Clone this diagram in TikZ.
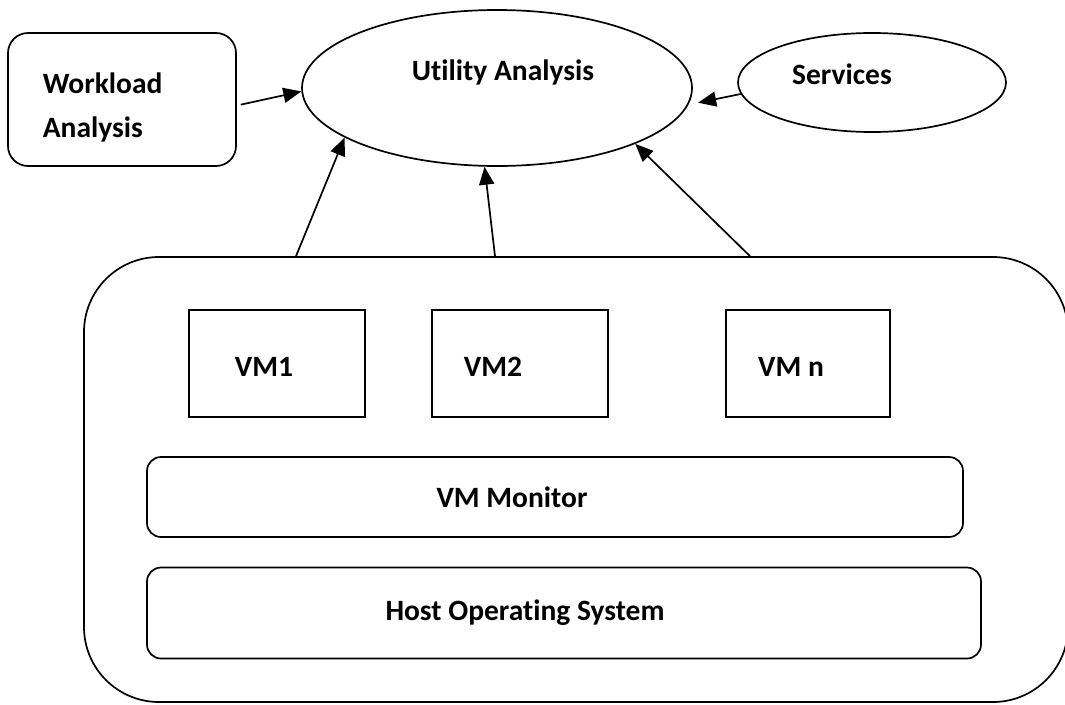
\documentclass[tikz,border=0pt]{standalone}
\usepackage{fontspec}
\setmainfont{Carlito}[Ligatures=NoCommon]
\usetikzlibrary{arrows.meta,shapes.geometric}

\begin{document}
\begin{tikzpicture}[x=1pt,y=-1pt,
	line width=1.7pt,
	>={Triangle[length=18pt,width=15pt]},
	txt/.style={font=\fontsize{29.5}{34}\selectfont\bfseries, inner sep=0pt, anchor=base},
	rbox/.style={draw, rounded corners=#1, inner sep=0pt},
	vmbox/.style={draw, inner sep=0pt, minimum height=107pt},
	oval/.style={draw, ellipse, inner sep=0pt}
]

% bounding box %{{{2

	\useasboundingbox (0,0) rectangle (1065,704);

% shapes %{{{2

	\node[rbox=20pt, minimum width=228pt, minimum height=133pt] (wl) at (122,99.5) {};
	\node[oval, minimum width=390pt, minimum height=156pt] (util) at (497,88) {};
	\node[oval, minimum width=268pt, minimum height=99pt] (svc) at (872,82.5) {};

	\node[rbox=75pt, minimum width=984pt, minimum height=445pt] (frame) at (576,479.5) {};

	\node[vmbox, minimum width=176pt] (vm1) at (277,363.5) {};
	\node[vmbox, minimum width=176pt] (vm2) at (520,363.5) {};
	\node[vmbox, minimum width=164pt] (vmn) at (808,363.5) {};

	\node[rbox=14pt, minimum width=816pt, minimum height=80pt] (mon) at (555,497) {};
	\node[rbox=14pt, minimum width=834pt, minimum height=91pt] (hos) at (564,613) {};

% coordinates %{{{2

	\coordinate (f1) at (frame.north -| 296,0);
	\coordinate (f2) at (frame.north -| 495,0);
	\coordinate (f3) at (frame.north -| 750,0);

% arrows %{{{2

	\draw[->, shorten <=4pt] (wl.357) -- (util.181);
	\draw[->, shorten >=10pt] (svc.185) -- (util.355);
	\draw[->] (f1) -- (util.198);
	\draw[->] (f2) -- (util.261);
	\draw[->] (f3) -- (util.338);

% labels %{{{2

	\node[txt, anchor=base west] (wl1) at (42,93) {Workload};
	\node[txt, anchor=base west] (wl2) at (42,137) {Analysis};
	\node[txt] (utiltxt) at (503,80) {Utility Analysis};
	\node[txt] (svctxt) at (842,84) {Services};

	\node[txt] (vm1txt) at (264,376) {VM1};
	\node[txt] (vm2txt) at (493,376) {VM2};
	\node[txt] (vmntxt) at (791,376) {VM n};

	\node[txt] (montxt) at (512,507) {VM Monitor};
	\node[txt] (hostxt) at (525,620) {Host Operating System};

\end{tikzpicture}
\end{document}
